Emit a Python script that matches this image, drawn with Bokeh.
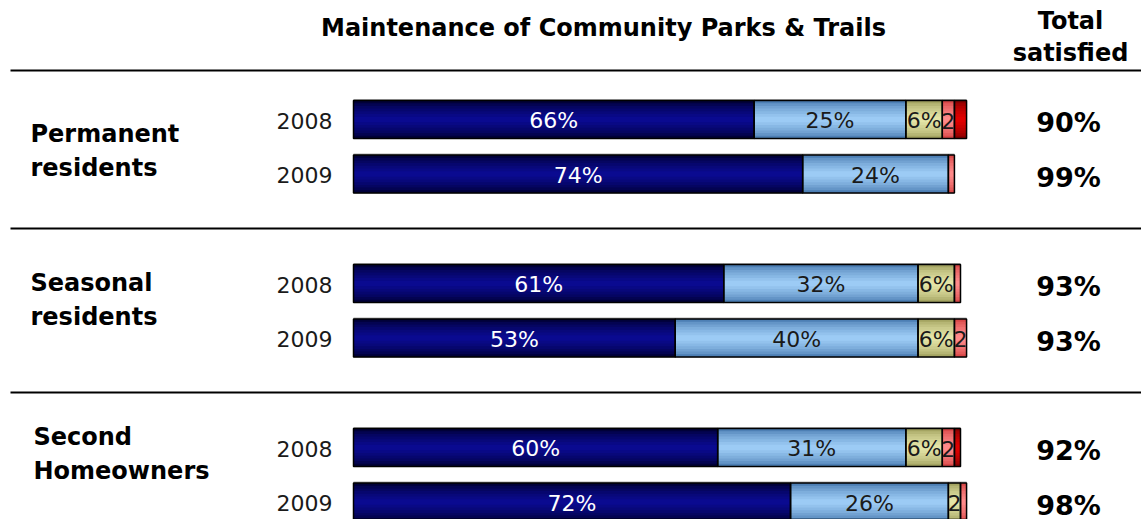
from bokeh.plotting import figure
from bokeh.models import Range1d, ColumnDataSource
from bokeh.embed import file_html
from bokeh.resources import INLINE
from bokeh.core.properties import value

title = "Maintenance of Community Parks & Trails"
groups = [["Permanent", "residents"], ["Seasonal", "residents"], ["Second", "Homeowners"]]
years = ["2008", "2009"]
categories = ["Very satisfied", "Somewhat satisfied", "Neutral",
              "Somewhat dissatisfied", "Very dissatisfied"]
very_satisfied = [66, 74, 61, 53, 60, 72]
somewhat_satisfied = [25, 24, 32, 40, 31, 26]
neutral = [6, 0, 6, 6, 6, 2]
somewhat_dissatisfied = [2, 1, 1, 2, 2, 1]
very_dissatisfied = [2, 0, 0, 0, 1, 0]
total_satisfied = [90, 99, 93, 93, 92, 98]

series = [very_satisfied, somewhat_satisfied, neutral, somewhat_dissatisfied, very_dissatisfied]
# (edge colour, centre colour) per category
colors = [("#000038", "#0a0a90"), ("#4d7fb4", "#9ccbf5"), ("#a4a462", "#e4e4a6"),
          ("#d84848", "#ff8a8a"), ("#8a0000", "#e00000")]
text_colors = ["white", "#1a1a1a", "#1a1a1a", "#1a1a1a", "#1a1a1a"]

W, H = 1141, 519
X0PX, SCALE = 353.0, 6.07   # pixel of 0%, pixels per percent


def px(xp):
    return (xp - X0PX) / SCALE


p = figure(width=W, height=H, output_backend="svg", toolbar_location=None,
           x_range=Range1d(px(0), px(W)), y_range=Range1d(H, 0),
           x_axis_location=None, y_axis_location=None, min_border=0)
p.grid.visible = False
p.outline_line_color = None
p.background_fill_color = "white"

FONT = value("DejaVu Sans")
BAR_H = 38
GROUP_STEP, YEAR_STEP, FIRST_Y = 164, 54.5, 119
GROUP_LABEL_Y = [133, 282, 436]
GROUP_LABEL_X = [30, 30, 33]


def blend(c1, c2, t):
    a = [int(c1[i:i + 2], 16) for i in (1, 3, 5)]
    b = [int(c2[i:i + 2], 16) for i in (1, 3, 5)]
    return "#%02x%02x%02x" % tuple(round(a[k] + (b[k] - a[k]) * t) for k in range(3))


row_y = []
for g in range(len(groups)):
    for k in range(len(years)):
        row_y.append(FIRST_Y + g * GROUP_STEP + k * YEAR_STEP)

NL = 7
layers = {"y": [], "left": [], "right": [], "h": [], "c": []}
outl = {"y": [], "left": [], "right": []}
lab = {"x": [], "y": [], "t": [], "c": []}
for r, y in enumerate(row_y):
    left = 0
    for ci, s in enumerate(series):
        v = s[r]
        if v <= 0:
            continue
        right = left + v
        for i in range(NL):
            t = i / (NL - 1)
            layers["y"].append(y)
            layers["left"].append(left)
            layers["right"].append(right)
            layers["h"].append(BAR_H * (1 - 0.85 * t))
            layers["c"].append(blend(colors[ci][0], colors[ci][1], t ** 0.7))
        outl["y"].append(y)
        outl["left"].append(left)
        outl["right"].append(right)
        if v >= 5:
            txt = f"{v}%"
        elif v >= 2 and ci < 4:
            txt = str(v)
        else:
            txt = ""
        if txt:
            lab["x"].append((left + right) / 2)
            lab["y"].append(y + 1)
            lab["t"].append(txt)
            lab["c"].append(text_colors[ci])
        left = right

# faint grey shadow line above each bar
p.hbar(y=[y - 0.5 for y in row_y], left=[0] * len(row_y),
       right=[sum(s[r] for s in series) for r in range(len(row_y))], height=BAR_H + 2,
       fill_color="#b0b0b0", line_color=None)
p.hbar(y="y", left="left", right="right", height="h", fill_color="c", line_color=None,
       source=ColumnDataSource(layers))
p.hbar(y="y", left="left", right="right", height=BAR_H, fill_color=None,
       line_color="black", line_width=1.5, source=ColumnDataSource(outl))
p.text(x="x", y="y", text="t", text_color="c", text_align="center", text_baseline="middle",
       text_font=FONT, text_font_size="22px", source=ColumnDataSource(lab))

# year labels
p.text(x=[px(332)] * len(row_y), y=[y + 1 for y in row_y], text=years * len(groups),
       text_align="right", text_baseline="middle", text_font=FONT, text_font_size="22px",
       text_color="#1a1a1a")

# total satisfied
p.text(x=[px(1068)] * len(row_y), y=[y + 3 for y in row_y], text=[f"{v}%" for v in total_satisfied],
       text_align="center", text_baseline="middle", text_font=FONT, text_font_size="27px",
       text_font_style="bold", text_color="black")

# group labels
gx, gy, gt = [], [], []
for g, lines in enumerate(groups):
    for j, ln in enumerate(lines):
        gx.append(px(GROUP_LABEL_X[g]))
        gy.append(GROUP_LABEL_Y[g] + j * 34)
        gt.append(ln)
p.text(x=gx, y=gy, text=gt, text_align="left", text_baseline="middle", text_font=FONT,
       text_font_size="24px", text_font_style="bold", text_color="black")

# header
p.text(x=[px(603)], y=[27], text=[title], text_align="center", text_baseline="middle",
       text_font=FONT, text_font_size="24px", text_font_style="bold", text_color="black")
p.text(x=[px(1070), px(1070)], y=[20, 52], text=["Total", "satisfied"], text_align="center",
       text_baseline="middle", text_font=FONT, text_font_size="24px", text_font_style="bold",
       text_color="black")

# separators
for sy in [70, 228, 392]:
    p.segment(x0=[px(10)], y0=[sy], x1=[px(W)], y1=[sy], line_color="black", line_width=2)

open("out.html", "w").write(file_html(p, INLINE))
